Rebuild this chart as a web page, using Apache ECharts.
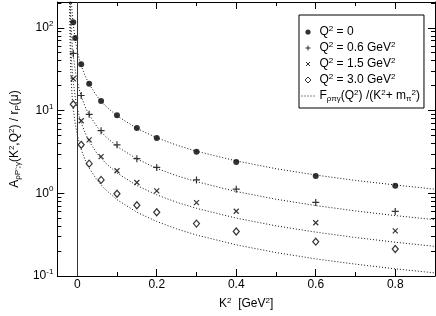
<!DOCTYPE html>
<html>
<head>
<meta charset="utf-8">
<script src="https://cdn.jsdelivr.net/npm/echarts@6/dist/echarts.min.js"></script>
<style>
html,body{margin:0;padding:0;background:#fff;}
#chart{width:436px;height:316px;}
</style>
</head>
<body>
<div id="chart"></div>
<script>
// ---- data ----
const k2Q0 = [-0.01, -0.005, 0.01, 0.03, 0.06, 0.1, 0.15, 0.2, 0.3, 0.4, 0.6, 0.8];
const valQ0 = [117, 75.4, 36.2, 21.1, 13.0, 8.77, 6.13, 4.66, 3.18, 2.39, 1.62, 1.23];

const k2Q = [-0.01, 0.01, 0.03, 0.06, 0.1, 0.15, 0.2, 0.3, 0.4, 0.6, 0.8];
const valQ06 = [49, 15.2, 9.0, 5.71, 3.85, 2.62, 2.05, 1.45, 1.12, 0.776, 0.604];
const valQ15 = [24.2, 7.52, 4.41, 2.77, 1.87, 1.35, 1.07, 0.77, 0.607, 0.44, 0.351];
const valQ30 = [11.9, 3.85, 2.28, 1.45, 0.986, 0.716, 0.59, 0.43, 0.345, 0.26, 0.212];

// dotted curves, values
const curveK2 = [-0.0193, -0.019, -0.0185, -0.018, -0.017, -0.016, -0.015, -0.014, -0.012, -0.01, -0.005, 0, 0.005, 0.01, 0.02, 0.03, 0.05, 0.07, 0.1, 0.15, 0.2, 0.25, 0.3, 0.4, 0.5, 0.6, 0.7, 0.8, 0.9];
const curveQ0  = [5150, 2060, 1030, 687, 412, 294, 229, 187, 137, 108, 71.0, 52.8, 42.0, 34.9, 26.1, 20.8, 14.8, 11.5, 8.62, 6.08, 4.69, 3.82, 3.22, 2.46, 1.98, 1.66, 1.43, 1.26, 1.12];
const curveQ06 = [2200, 880, 440, 293, 176, 126, 97.8, 80.0, 58.7, 46.3, 30.3, 22.6, 18.0, 14.9, 11.1, 8.89, 6.33, 4.92, 3.68, 2.60, 2.00, 1.63, 1.38, 1.05, 0.847, 0.710, 0.612, 0.537, 0.479];
const curveQ15 = [1050, 420, 210, 140, 84.0, 60.0, 46.7, 38.2, 28.0, 22.1, 14.5, 10.8, 8.57, 7.12, 5.32, 4.24, 3.02, 2.35, 1.76, 1.24, 0.957, 0.779, 0.657, 0.501, 0.404, 0.339, 0.292, 0.256, 0.228];
const curveQ30 = [500, 200, 100, 66.7, 40.0, 28.6, 22.2, 18.2, 13.3, 10.5, 6.90, 5.13, 4.08, 3.39, 2.53, 2.02, 1.44, 1.12, 0.837, 0.590, 0.456, 0.371, 0.313, 0.238, 0.192, 0.161, 0.139, 0.122, 0.109];

// ticks
const xMajor = [0, 0.2, 0.4, 0.6, 0.8];
const xMinor = [0.1, 0.3, 0.5, 0.7];
const yMajor = [0.1, 1, 10, 100];
const yMinor = [0.2, 0.3, 0.4, 0.5, 0.6, 0.7, 0.8, 0.9, 2, 3, 4, 5, 6, 7, 8, 9, 20, 30, 40, 50, 60, 70, 80, 90, 200];
const xMin = -0.05, xMax = 0.9, yMin = 0.1, yMax = 205;

const legendLabels = {
  'Q0': 'Q{sup|2} = 0',
  'Q06': 'Q{sup|2} = 0.6 GeV{sup|2}',
  'Q15': 'Q{sup|2} = 1.5 GeV{sup|2}',
  'Q30': 'Q{sup|2} = 3.0 GeV{sup|2}',
  'F': 'F{sub|ρπγ}(Q{sup|2}) /(K{sup|2}+ m{sub|π}{sup|2})'
};

// ---- build ----
const FONT = "'Liberation Sans', Arial, Helvetica, sans-serif";
const zip = (xs, ys) => xs.map((x, i) => [x, ys[i]]);
const rich = {
  b: {fontFamily: FONT, fontSize: 12, lineHeight: 16, color: '#000'},
  sup: {fontFamily: FONT, fontSize: 8, lineHeight: 8, verticalAlign: 'top', color: '#000'},
  sub: {fontFamily: FONT, fontSize: 8, lineHeight: 8, verticalAlign: 'bottom', color: '#000'}
};
const black = {color: '#000', width: 1};

function xAxisDef(pos, ticks, len, showLine, showLabel) {
  return {
    type: 'value', min: xMin, max: xMax, position: pos,
    splitLine: {show: false},
    axisLine: {show: showLine, onZero: false, lineStyle: black},
    axisTick: {show: true, inside: true, length: len, customValues: ticks, lineStyle: black},
    axisLabel: showLabel ? {show: true, customValues: ticks, margin: 3, fontFamily: FONT, fontSize: 12, color: '#000', formatter: v => String(v)} : {show: false}
  };
}
function yAxisDef(pos, ticks, len, showLine, showLabel) {
  return {
    type: 'log', logBase: 10, min: yMin, max: yMax, position: pos,
    splitLine: {show: false},
    axisLine: {show: showLine, onZero: false, lineStyle: black},
    axisTick: {show: true, inside: true, length: len, customValues: ticks, lineStyle: black},
    axisLabel: showLabel ? {
      show: true, customValues: ticks, margin: 4, color: '#000',
      formatter: v => '{b|10}{sup|' + Math.round(Math.log10(v)) + '}',
      rich: rich
    } : {show: false}
  };
}

const xAxes = [
  xAxisDef('bottom', xMajor, 7, true, true),
  xAxisDef('bottom', xMinor, 4, false, false),
  xAxisDef('top', xMajor, 7, true, false),
  xAxisDef('top', xMinor, 4, false, false)
];
Object.assign(xAxes[0], {
  name: 'K{sup|2}  [GeV{sup|2}]', nameLocation: 'middle', nameGap: 21,
  nameTextStyle: {fontFamily: FONT, fontSize: 12, color: '#000', lineHeight: 14, rich: rich}
});
const yAxes = [
  yAxisDef('left', yMajor, 7, true, true),
  yAxisDef('left', yMinor, 4, false, false),
  yAxisDef('right', yMajor, 7, true, false),
  yAxisDef('right', yMinor, 4, false, false)
];
Object.assign(yAxes[0], {
  name: "A{sub|ρP';γ}(K{sup|2},Q{sup|2}) / r{sub|P}(μ)", nameLocation: 'middle', nameGap: 23,
  nameTextStyle: {fontFamily: FONT, fontSize: 12, color: '#000', lineHeight: 14, rich: rich}
});

const curveStyle = {color: '#111', width: 1, type: [1, 2]};
function curve(vals, withZero) {
  const s = {
    name: 'F', type: 'line', data: zip(curveK2, vals), symbol: 'none', silent: true,
    clip: true, lineStyle: curveStyle, itemStyle: {color: '#111'}, z: 1
  };
  if (withZero) {
    s.markLine = {
      silent: true, symbol: ['none', 'none'], label: {show: false},
      lineStyle: {color: '#333', width: 1, type: 'solid'},
      data: [{xAxis: 0}]
    };
  }
  return s;
}

const series = [
  curve(curveQ0, true), curve(curveQ06), curve(curveQ15), curve(curveQ30),
  {name: 'Q0', type: 'scatter', data: zip(k2Q0, valQ0), symbol: 'circle', symbolSize: 6,
   itemStyle: {color: '#000'}, z: 3},
  {name: 'Q06', type: 'scatter', data: zip(k2Q, valQ06), symbol: 'path://M0 5L10 5M5 0L5 10', symbolSize: 7,
   itemStyle: {color: '#000', borderColor: '#000', borderWidth: 1.2}, z: 3},
  {name: 'Q15', type: 'scatter', data: zip(k2Q, valQ15), symbol: 'path://M0 0L10 10M10 0L0 10', symbolSize: 5,
   itemStyle: {color: '#000', borderColor: '#000', borderWidth: 1.2}, z: 3},
  {name: 'Q30', type: 'scatter', data: zip(k2Q, valQ30), symbol: 'diamond', symbolSize: [6, 7],
   itemStyle: {color: '#fff', borderColor: '#000', borderWidth: 1.2}, z: 3}
];

const legendStroke = {color: '#000', borderColor: '#000', borderWidth: 1};
const option = {
  animation: false,
  backgroundColor: '#fff',
  grid: {left: 38, right: 1, top: 2, bottom: 35},
  xAxis: xAxes,
  yAxis: yAxes,
  legend: {
    left: 299, top: 15, orient: 'vertical', align: 'left',
    itemWidth: 13, itemHeight: 13, itemGap: 2,
    padding: [10, 4, 5, 2],
    backgroundColor: '#fff', borderColor: '#000', borderWidth: 1, borderRadius: 0,
    selectedMode: false, z: 10,
    textStyle: {fontFamily: FONT, fontSize: 12, color: '#000', lineHeight: 14, rich: rich},
    formatter: n => legendLabels[n],
    data: [
      {name: 'Q0', icon: 'path://M0 0M13 13M9.1 6.5A2.6 2.6 0 1 1 3.9 6.5A2.6 2.6 0 1 1 9.1 6.5Z', itemStyle: {color: '#000', borderWidth: 0}},
      {name: 'Q06', icon: 'path://M0 0M13 13M4 6.5L9 6.5M6.5 4L6.5 9', itemStyle: legendStroke},
      {name: 'Q15', icon: 'path://M0 0M13 13M4.5 4.5L8.5 8.5M8.5 4.5L4.5 8.5', itemStyle: legendStroke},
      {name: 'Q30', icon: 'path://M0 0M13 13M6.5 3.5L9.5 6.5L6.5 9.5L3.5 6.5Z', itemStyle: {color: '#fff', borderColor: '#000', borderWidth: 1}},
      {name: 'F', itemStyle: {color: 'rgba(0,0,0,0)', borderWidth: 0, opacity: 0},
       lineStyle: {color: '#111', width: 1, type: [1, 2], opacity: 1}}
    ]
  },
  series: series
};

const chart = echarts.init(document.getElementById('chart'), null, {renderer: 'canvas'});
chart.setOption(option);
</script>
</body>
</html>
